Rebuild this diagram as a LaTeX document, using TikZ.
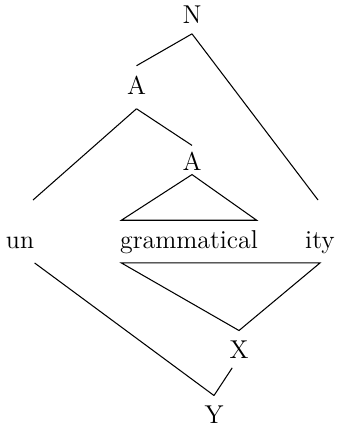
\documentclass[tikz,border=0pt]{standalone}
\usepackage{tikz}

\begin{document}
\begin{tikzpicture}[x=0.02cm, y=-0.02cm, line width=0.6pt,
  font=\fontsize{14.7}{17}\selectfont,
  cat/.style={anchor=base, inner sep=5.3pt},
  word/.style={anchor=base, inner xsep=0pt, inner ysep=5.3pt, text height=10.2pt, text depth=2.9pt}]
\useasboundingbox (0,0) rectangle (336,426);
\node[cat] (N) at (192,24) {N};
\node[cat, text depth=2.8pt] (A1) at (136.5,94) {A};
\node[cat, inner ysep=2.3pt, text height=11.4pt] (A2) at (192,170) {A};
\node[word] (un) at (20,248) {un};
\node[word, inner xsep=-1pt] (gram) at (189,248) {grammatical};
\node[word] (ity) at (320,248) {ity};
\node[cat] (X) at (239,358) {X};
\node[cat] (Y) at (214,423) {Y};
\coordinate (un-up) at (33,200);
\coordinate (ity-up) at (318,200);
\draw (N.south) -- (A1.north);
\draw (N.south) -- (ity-up);
\draw (A1.south) -- (A2.north);
\draw (A1.south) -- (un-up);
\draw (A2.south) -- (gram.north west) -- (gram.north east) -- cycle;
\draw (gram.south west) -- (ity.south) -- (X.north) -- cycle;
\draw (X.250) -- (Y.north);
\draw (un.south east) -- (Y.north);
\end{tikzpicture}
\end{document}
